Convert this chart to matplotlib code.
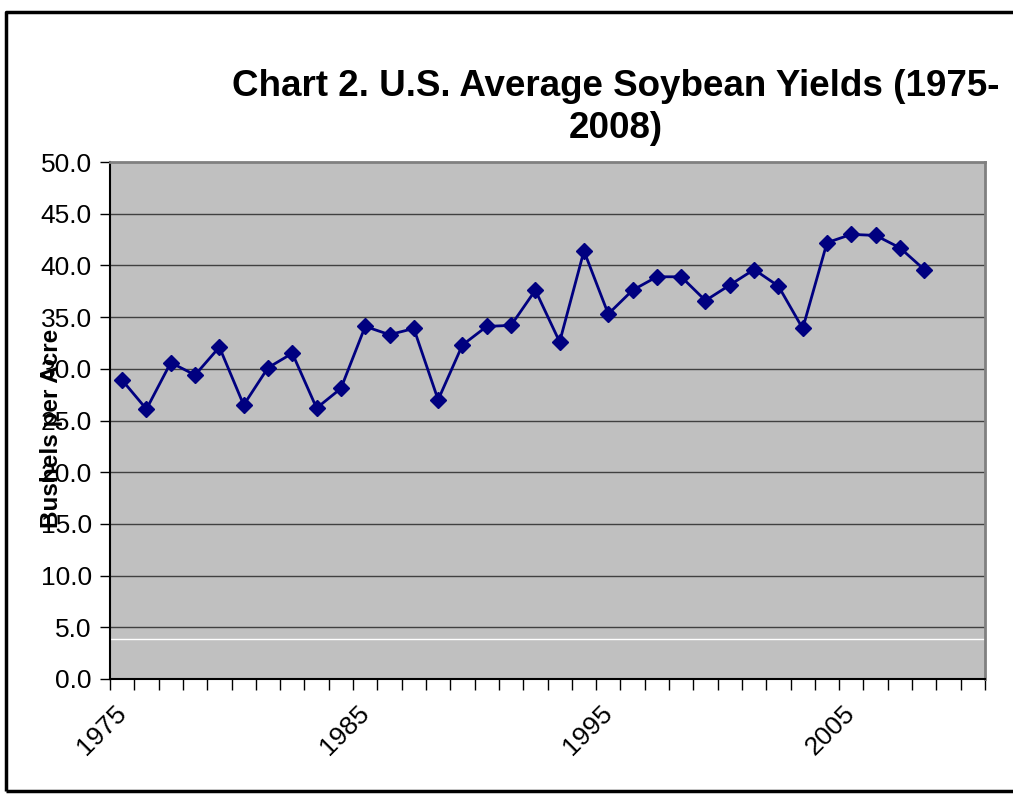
import numpy as np
import matplotlib.pyplot as plt
from matplotlib.lines import Line2D

# Dane: srednie plony soi w USA (buszle z akra)
years = list(range(1975, 2009))
yields = [28.9, 26.1, 30.6, 29.4, 32.1, 26.5, 30.1, 31.5, 26.2, 28.1,
          34.1, 33.3, 33.9, 27.0, 32.3, 34.1, 34.2, 37.6, 32.6, 41.4,
          35.3, 37.6, 38.9, 38.9, 36.6, 38.1, 39.6, 38.0, 33.9, 42.2,
          43.0, 42.9, 41.7, 39.6]
axis_years = list(range(1975, 2011))
label_years = [1975, 1985, 1995, 2005]
y_ticks = [0, 5, 10, 15, 20, 25, 30, 35, 40, 45, 50]

plt.rcParams['font.family'] = ['Liberation Sans', 'DejaVu Sans']

fig = plt.figure(figsize=(10.13, 7.94), dpi=100)
ax = fig.add_axes([110/1013, 1 - 679/794, 875/1013, 517/794])
ax.set_facecolor('#c0c0c0')

xs = [axis_years.index(y) for y in years]
ax.plot(xs, yields, color='#000080', lw=2, marker='D', markersize=8.5,
        zorder=3, clip_on=False)

ax.set_xlim(-0.5, len(axis_years) - 0.5)
ax.set_ylim(0, 50)

# podzialka osi Y i linie siatki
ax.set_yticks(y_ticks)
ax.set_yticklabels([f'{v:.1f}' for v in y_ticks], fontsize=19)
for v in y_ticks[1:-1]:
    ax.axhline(v, color='#404040', lw=1, zorder=1)
ax.axhline(3.85, color='white', lw=1, zorder=1)
ax.tick_params(axis='y', direction='out', length=7, width=1, pad=6)

# os X: kreski na granicach kategorii, etykiety co 10 lat
ax.set_xticks(np.arange(-0.5, len(axis_years), 1.0))
ax.set_xticklabels([])
ax.tick_params(axis='x', which='major', direction='out', length=8, width=1)
ax.set_xticks([axis_years.index(y) for y in label_years], minor=True)
ax.set_xticklabels([str(y) for y in label_years], minor=True, fontsize=19,
                   rotation=45, ha='right', va='center', rotation_mode='anchor')
ax.tick_params(axis='x', which='minor', length=0, pad=22)

for s in ['left', 'bottom']:
    ax.spines[s].set_color('black')
    ax.spines[s].set_linewidth(1.5)
for s in ['top', 'right']:
    ax.spines[s].set_color('#808080')
    ax.spines[s].set_linewidth(2)

ax.set_ylabel('Bushels per Acre', fontsize=17.5, fontweight='bold')
ax.yaxis.set_label_coords(-47/875, (679 - 428) / 517)

fig.text(616/1013, 1 - 86/794, 'Chart 2. U.S. Average Soybean Yields (1975-',
         ha='center', va='center', fontsize=26.5, fontweight='bold')
fig.text(616/1013, 1 - 128/794, '2008)',
         ha='center', va='center', fontsize=26.5, fontweight='bold')

# ramka wykresu (prawa krawedz obcieta)
fig.add_artist(Line2D([6/1013, 6/1013, 1.0], [1 - 791/794, 1 - 12/794, 1 - 12/794],
                      transform=fig.transFigure, color='black', lw=2.5,
                      solid_capstyle='butt'))
fig.add_artist(Line2D([6/1013, 1.0], [1 - 791/794, 1 - 791/794],
                      transform=fig.transFigure, color='black', lw=2.5,
                      solid_capstyle='butt'))

fig.savefig('out.png', dpi=100)
